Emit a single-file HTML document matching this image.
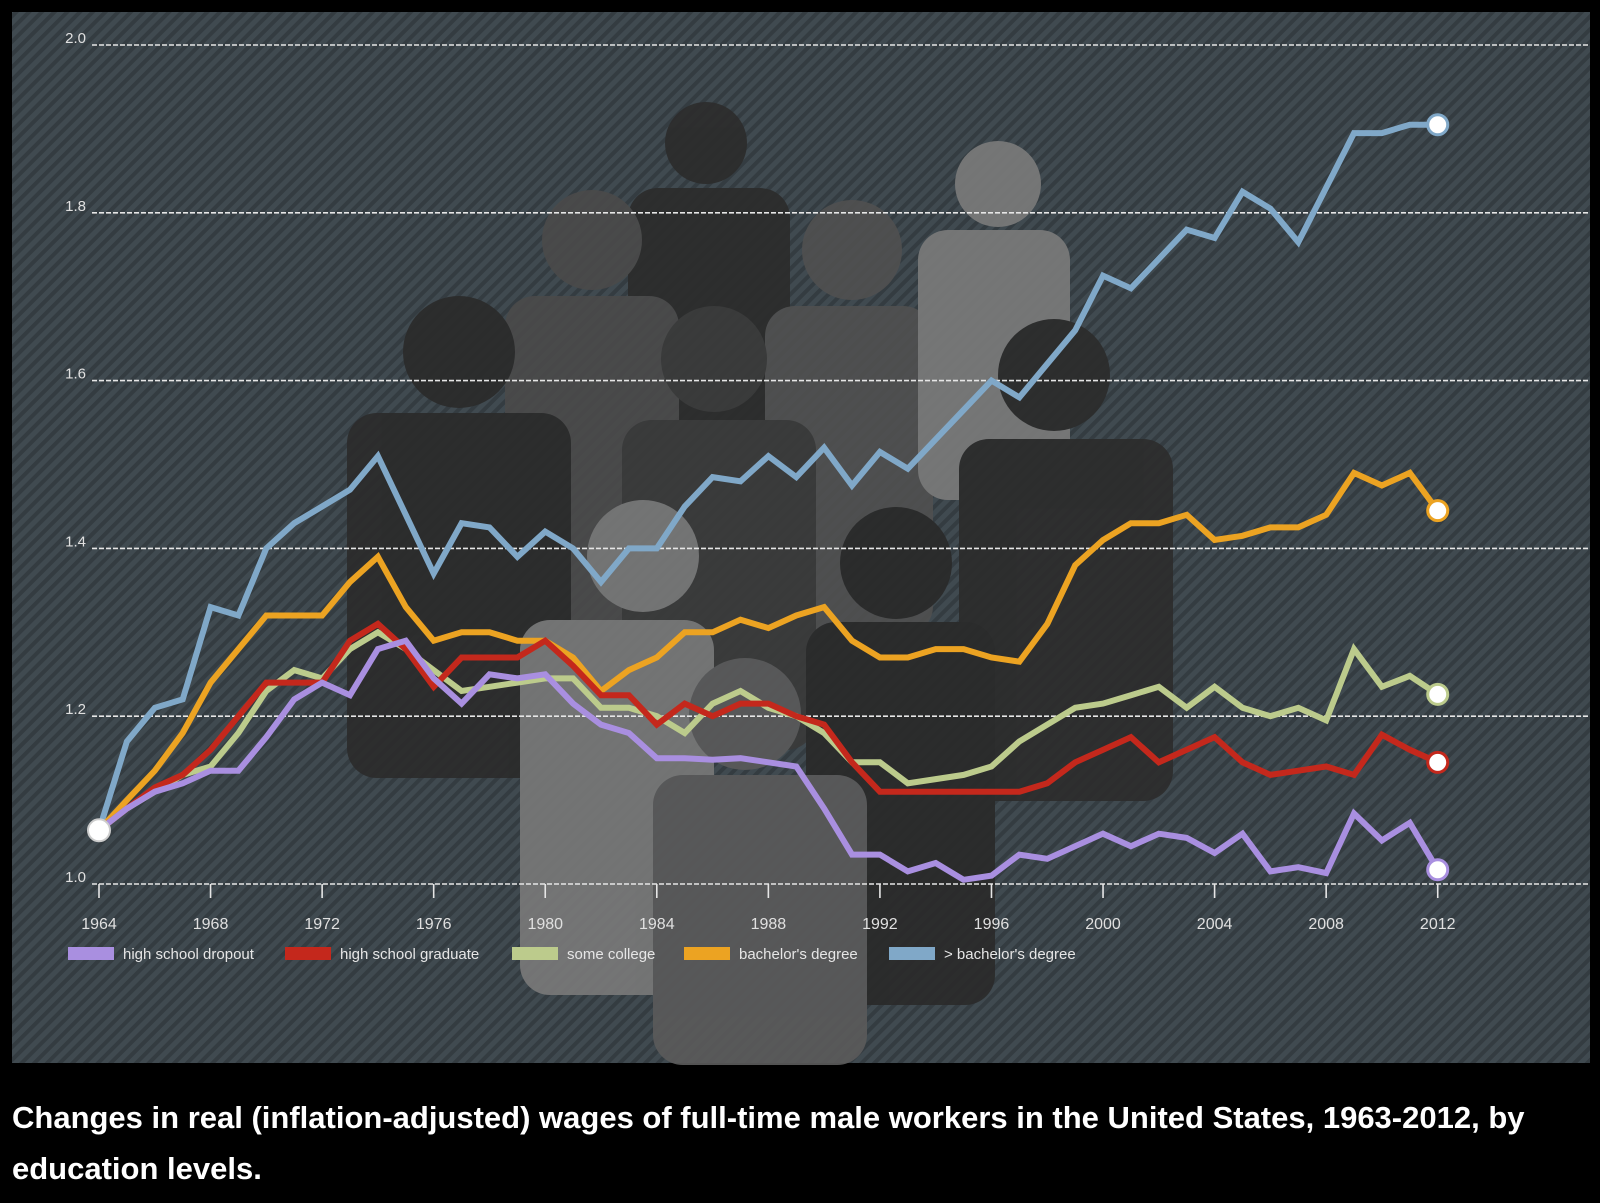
<!DOCTYPE html>
<html><head><meta charset="utf-8"><style>
html,body{margin:0;padding:0;background:#000;width:1600px;height:1203px;overflow:hidden}
svg{display:block}
.cap{position:absolute;left:12px;top:1092px;width:1588px;color:#fff;font-family:"Liberation Sans",sans-serif;font-size:31px;font-weight:bold;line-height:51px;white-space:nowrap}
</style></head><body>
<svg id="chart" width="1600" height="1203" xmlns="http://www.w3.org/2000/svg">
<defs>
<pattern id="hatch" width="9" height="9" patternUnits="userSpaceOnUse" patternTransform="rotate(45)">
<rect width="9" height="9" fill="#404a50"/><rect width="4" height="9" fill="#343c41"/>
</pattern>
</defs>
<rect x="12" y="12" width="1578" height="1051" fill="url(#hatch)"/>
<g id="people" opacity="0.92"></g>
<g id="grid"></g>
<g id="lines"></g>
<g id="legend"></g>
</svg>
<div class="cap">Changes in real (inflation-adjusted) wages of full-time male workers in the United States, 1963-2012, by<br>education levels.</div>
<script>
const years=[];for(let y=1964;y<=2012;y++)years.push(y);
const yTicks=[1.0,1.2,1.4,1.6,1.8,2.0];
const xTicks=[1964,1968,1972,1976,1980,1984,1988,1992,1996,2000,2004,2008,2012];
const dropout=[1.064,1.09,1.11,1.12,1.135,1.135,1.175,1.22,1.24,1.225,1.28,1.29,1.245,1.215,1.25,1.245,1.25,
1.215,1.19,1.18,1.15,1.15,1.148,1.15,1.145,1.14,1.09,
1.035,1.035,1.015,1.025,1.005,1.01,1.035,1.03,1.045,1.06,
1.045,1.06,1.055,1.037,1.06,1.015,1.02,1.013,1.084,1.052,1.073,1.017];
const hsGrad=[1.064,1.09,1.115,1.13,1.16,1.20,1.24,1.24,1.24,1.29,1.31,1.28,1.235,1.27,1.27,1.27,1.29,
1.26,1.225,1.225,1.19,1.215,1.20,1.215,1.215,1.20,1.19,
1.145,1.11,1.11,1.11,1.11,1.11,1.11,1.12,1.145,1.16,
1.175,1.145,1.16,1.175,1.145,1.13,1.135,1.14,1.13,1.178,1.16,1.145];
const someCollege=[1.064,1.09,1.11,1.13,1.14,1.18,1.23,1.255,1.245,1.28,1.30,1.28,1.255,1.23,1.235,1.24,1.245,
1.245,1.21,1.21,1.20,1.18,1.215,1.23,1.21,1.20,1.18,
1.145,1.145,1.12,1.125,1.13,1.14,1.17,1.19,1.21,1.215,
1.225,1.235,1.21,1.235,1.21,1.20,1.21,1.195,1.28,1.235,1.248,1.226];
const bachelor=[1.064,1.10,1.135,1.18,1.24,1.28,1.32,1.32,1.32,1.36,1.39,1.33,1.29,1.30,1.30,1.29,1.29,
1.27,1.23,1.255,1.27,1.30,1.30,1.315,1.305,1.32,1.33,
1.29,1.27,1.27,1.28,1.28,1.27,1.265,1.31,1.38,1.41,
1.43,1.43,1.44,1.41,1.415,1.425,1.425,1.44,1.49,1.475,1.49,1.445];
const graduate=[1.064,1.17,1.21,1.22,1.33,1.32,1.40,1.43,1.45,1.47,1.51,1.44,1.37,1.43,1.425,1.39,1.42,
1.40,1.36,1.40,1.40,1.45,1.485,1.48,1.51,1.485,1.52,
1.475,1.515,1.495,1.53,1.565,1.60,1.58,1.62,1.66,1.725,
1.71,1.745,1.78,1.77,1.825,1.805,1.765,1.83,1.895,1.895,1.905,1.905];
const seriesNames=["high school dropout","high school graduate","some college","bachelor's degree","> bachelor's degree"];
const seriesColors=["#a98fe0","#c4281c","#bccb8c","#eca322","#80a8c8"];
const seriesData=[dropout,hsGrad,someCollege,bachelor,graduate];

const NS="http://www.w3.org/2000/svg";
function X(y){return 99+(y-1964)*27.89;}
function Y(v){return 884-(v-1)*839;}
function mk(tag,attrs,parent){const e=document.createElementNS(NS,tag);for(const k in attrs)e.setAttribute(k,attrs[k]);parent.appendChild(e);return e;}

const ppl=document.getElementById('people');
const figs=[[706,143,41,628,188,162,330,"#2c2c2c"],[592,240,50,505,296,174,330,"#4a4a4a"],[852,250,50,765,306,168,330,"#505050"],
[998,184,43,918,230,152,270,"#7a7a7a"],[459,352,56,347,413,224,365,"#2b2b2b"],[714,359,53,622,420,194,330,"#3a3a3a"],
[1054,375,56,959,439,214,362,"#2c2c2c"],[896,563,56,806,622,189,383,"#2a2a2a"],[643,556,56,520,620,194,375,"#787878"],
[745,714,56,653,775,214,290,"#5a5a5a"]];
figs.forEach((f,i)=>{
const g=mk('g',{},ppl);


mk('circle',{cx:f[0],cy:f[1],r:f[2],fill:f[7]},g);
mk('rect',{x:f[3],y:f[4],width:f[5],height:f[6],rx:30,fill:f[7]},g);
});

const grid=document.getElementById('grid');
yTicks.forEach(t=>{
const l=mk('line',{x1:92,x2:1590,y1:Y(t),y2:Y(t),stroke:"#e6e6e6","stroke-width":1.6,"stroke-dasharray":"5 2"},grid);


const tx=mk('text',{x:86,y:Y(t)-2,fill:"#e0e0e0","font-size":15,"text-anchor":"end","font-family":"Liberation Sans, sans-serif"},grid);
tx.textContent=t.toFixed(1);


});
xTicks.forEach(t=>{
const l=mk('line',{x1:X(t),x2:X(t),y1:884,y2:898,stroke:"#e6e6e6","stroke-width":1.6},grid);


const tx=mk('text',{x:X(t),y:929,fill:"#e0e0e0","font-size":16,"text-anchor":"middle","font-family":"Liberation Sans, sans-serif"},grid);
tx.textContent=t;


});

const lg=document.getElementById('lines');
const order=[4,3,2,1,0];
order.forEach(i=>{
const d=seriesData[i].map((v,j)=>(j?'L':'M')+X(years[j]).toFixed(1)+' '+Y(v).toFixed(1)).join(' ');
const p=mk('path',{d:d,fill:"none",stroke:seriesColors[i],"stroke-width":6,"stroke-linejoin":"miter"},lg);


});
seriesData.forEach((s,i)=>{
const c=mk('circle',{cx:X(2012),cy:Y(s[s.length-1]),r:10,fill:"#fff",stroke:seriesColors[i],"stroke-width":3},lg);


});
const c0=mk('circle',{cx:X(1964),cy:Y(dropout[0]),r:11,fill:"#fff",stroke:"#ccc","stroke-width":2},lg);



const leg=document.getElementById('legend');
const lx=[68,285,512,684,889];
seriesNames.forEach((n,i)=>{
const g=mk('g',{},leg);


mk('rect',{x:lx[i],y:947,width:46,height:13,fill:seriesColors[i]},g);
const t=mk('text',{x:lx[i]+55,y:959,fill:"#e6e6e6","font-size":15,"font-family":"Liberation Sans, sans-serif"},g);
t.textContent=n;
});
</script>
</body></html>
